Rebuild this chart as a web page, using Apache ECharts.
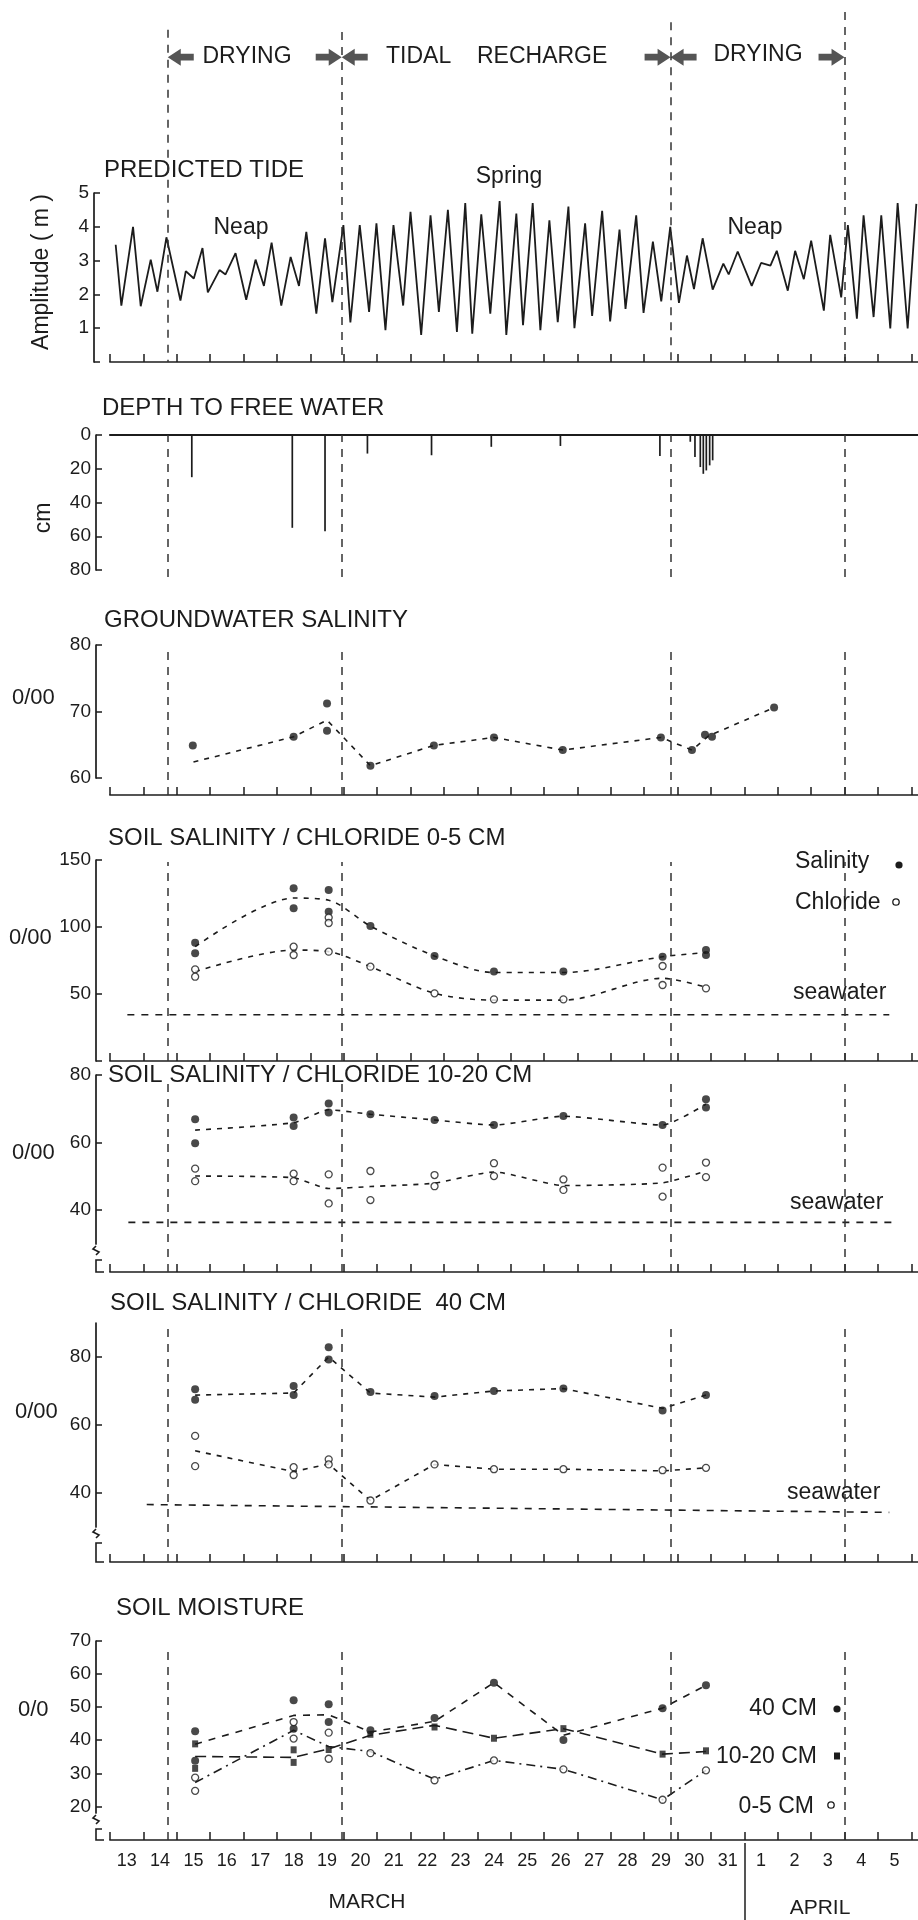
<!DOCTYPE html>
<html><head><meta charset="utf-8">
<style>html,body{margin:0;padding:0;background:#fff}#c{width:918px;height:1920px}</style>
<script src="https://cdn.jsdelivr.net/npm/echarts@6/dist/echarts.min.js"></script>
</head><body><div id="c"></div>
<script>
// ================= DATA =================
// x coordinate = day number (March 13 = 13 ... March 31 = 31, April 1 = 32 ... April 5 = 36)
const dayLabelValues = [13,14,15,16,17,18,19,20,21,22,23,24,25,26,27,28,29,30,31,32,33,34,35,36];
const dayLabels = ['13','14','15','16','17','18','19','20','21','22','23','24','25','26','27','28','29','30','31','1','2','3','4','5'];
const dayTicks = [12.5,13.5,14.5,15.5,16.5,17.5,18.5,19.5,20.5,21.5,22.5,23.5,24.5,25.5,26.5,27.5,28.5,29.5,30.5,31.5,32.5,33.5,34.5,35.5,36.5];
const monthBoundary = [31.5];
const phaseLines = [14.23, 19.44, 29.29, 34.5];
const phaseLineTops = [0.949, 0.943, 0.971, 1.0]; // where each dashed line starts in the header (fraction of header+tide band)

// predicted tide, amplitude (m)
const tide = [[12.67,3.47],[12.84,1.67],[13.19,4.0],[13.42,1.65],[13.72,3.03],[13.92,2.08],[14.19,3.69],[14.61,1.82],[14.77,2.69],[15.01,2.47],[15.27,3.37],[15.43,2.06],[15.78,2.72],[15.96,2.59],[16.26,3.22],[16.58,1.84],[16.86,3.03],[17.11,2.25],[17.34,3.53],[17.63,1.67],[17.91,3.11],[18.16,2.25],[18.38,3.85],[18.68,1.43],[18.94,3.66],[19.16,1.77],[19.49,4.05],[19.70,1.17],[19.98,4.05],[20.26,1.48],[20.48,4.1],[20.75,0.94],[20.99,4.05],[21.28,1.67],[21.5,4.44],[21.82,0.8],[22.1,4.34],[22.35,1.48],[22.62,4.5],[22.89,0.89],[23.14,4.7],[23.35,0.84],[23.62,4.37],[23.89,1.43],[24.17,4.76],[24.37,0.8],[24.67,4.39],[24.87,1.09],[25.16,4.7],[25.39,0.94],[25.66,4.19],[25.91,1.18],[26.23,4.6],[26.41,1.0],[26.73,4.1],[26.94,1.36],[27.24,4.47],[27.48,1.2],[27.76,3.92],[27.94,1.57],[28.26,4.34],[28.48,1.45],[28.76,3.56],[29.01,1.79],[29.28,4.0],[29.54,1.75],[29.78,3.15],[29.99,2.16],[30.25,3.66],[30.55,2.14],[30.87,2.91],[31.03,2.59],[31.30,3.27],[31.72,2.25],[32.0,2.93],[32.28,2.85],[32.47,3.29],[32.8,2.11],[33.02,3.29],[33.28,2.45],[33.5,3.59],[33.88,1.52],[34.07,3.76],[34.4,1.91],[34.6,4.05],[34.87,1.28],[35.07,4.34],[35.37,1.33],[35.6,4.34],[35.87,0.99],[36.09,4.70],[36.39,0.99],[36.65,4.68]];

// depth to free water (cm)
const depthToWater = [[14.95,25],[17.96,55],[18.94,57],[20.21,11],[22.13,12],[23.92,7],[25.99,6.5],[28.97,12.5],[29.88,4],[30.02,13],[30.18,19],[30.27,23],[30.36,21],[30.46,18],[30.55,15]];

// groundwater salinity (0/00)
const gwPoints = [[14.98,64.9],[15.0,59.8],[18.0,66.2],[19.0,71.2],[19.0,67.1],[20.3,61.85],[22.2,64.9],[24.0,66.1],[26.06,64.2],[29.0,66.1],[29.93,64.2],[30.32,66.5],[30.53,66.2],[32.39,70.6]];
const gwLine = [[15.0,62.4],[18.0,66.2],[19.0,68.7],[20.3,61.85],[22.2,64.9],[24.0,66.1],[26.06,64.2],[29.0,66.1],[29.93,64.2],[30.42,66.3],[32.39,70.6]];

// soil sampling days
const sampleDays = [15.05, 18.0, 19.05, 20.3, 22.22, 24.0, 26.08, 29.05, 30.35];

// soil 0-5 cm
const sal05A = [88.3,128.9,127.6,100.7,78.4,66.7,66.7,77.8,82.8];
const sal05B = [80.4,114,111.4,null,null,null,null,null,79.1];
const sal05Line = [85.3,121.6,120,100.7,78.4,66,66,77.8,80.9];
const cl05A = [68.4,85.3,107,70.4,50.5,46,46,70.9,54.2];
const cl05B = [62.9,79.1,103,null,null,null,null,56.7,null];
const cl05C = [null,null,81.6,null,null,null,null,null,null];
const cl05Line = [66.7,82.8,81.6,70.4,50.5,45.4,45.4,61.7,55];
const seawater05 = [[13.02,34.5],[35.84,34.5]];

// soil 10-20 cm
const sal1020A = [66.9,67.4,71.6,68.4,66.7,65.2,67.9,65.2,72.8];
const sal1020B = [59.8,64.9,68.9,null,null,null,null,null,70.4];
const sal1020Line = [63.7,65.9,69.7,68.4,66.7,65.2,67.8,65.2,71.4];
const cl1020A = [52.3,50.8,50.6,51.6,50.4,53.9,49.1,52.6,54.1];
const cl1020B = [48.6,48.6,42,43,47.1,50.1,46,44,49.8];
const cl1020Line = [50.1,49.6,46.4,47,48,51.3,47.3,48.1,51.6];
const seawater1020 = [[13.05,36.4],[35.93,36.4]];

// soil 40 cm
const sal40A = [70.5,71.5,82.9,69.7,68.5,70,70.7,64.3,68.8];
const sal40B = [67.4,68.8,79.3,null,null,null,null,null,null];
const sal40Line = [68.8,69.4,80,69.4,68.2,70,70.7,64.9,68.8];
const cl40A = [56.8,47.6,49.9,37.8,48.4,47,47,46.7,47.4];
const cl40B = [47.9,45.3,48.4,null,null,null,null,null,null];
const cl40Line = [52.4,46.3,48.5,37.8,48.4,47,47,46.5,47.4];
const seawater40 = [[13.6,36.6],[35.84,34.3]];

// soil moisture (0/0)
const m40A = [42.7,52.1,50.9,43,46.7,57.4,40.1,49.7,56.6];
const m40B = [33.8,43.5,45.5,null,null,null,null,null,null];
const m40Line = [38.8,47.5,47.7,42.5,45.7,57.4,41.5,49.7,56.6];
const m1020A = [38.9,37.1,37.2,41.8,44,40.6,43.5,35.8,36.8];
const m1020B = [31.5,33.3,null,null,null,null,null,null,null];
const m1020Line = [35.1,34.8,37.4,41.5,44.5,40.6,43.5,35.8,36.6];
const m05A = [28.7,45.5,42.3,36.1,27.9,33.9,31.2,22,30.9];
const m05B = [24.7,40.5,34.4,null,null,null,null,null,null];
const m05Line = [27.2,43,38.1,36.6,28.2,33.9,31.2,22,30.9];

// ================= BUILD =================
const INK = '#1c1c1c';
const FONT = "'Liberation Sans', Arial, Helvetica, sans-serif";
const X_MIN = 12.5, X_MAX = 36.7;
const pairs = (days, vals) => days.map((d, i) => [d, vals[i]]).filter(p => p[1] != null);

const mainGrids = [
  {top:193, height:169}, {top:435, height:135}, {top:645, height:133}, {top:860, height:201},
  {top:1075, height:169}, {top:1323, height:204}, {top:1641, height:172}
];
const overlayGrids = [[12,362],[435,577],[645,795],[862,1061],[1078,1272],[1325,1562],[1645,1840],[1843,1920]];
const grid = mainGrids.map(g => ({left:110, right:0, top:g.top, height:g.height}))
  .concat(overlayGrids.map(o => ({left:110, right:0, top:o[0], height:o[1]-o[0]})));

const xOffsets = [0, 0, 17, 0, 28, 35, 27];
const xAxis = [];
const yAxis = [];
mainGrids.forEach((g, i) => {
  const isDepth = i === 1, isLast = i === 6;
  xAxis.push({
    type:'value', gridIndex:i, min:X_MIN, max:X_MAX, position: isDepth ? 'top' : 'bottom',
    offset: xOffsets[i],
    axisLine:{show:true, onZero:false, lineStyle:{color:INK, width:isDepth ? 2.2 : 1.7}},
    axisTick:{show:!isDepth, inside:true, length:8, customValues:dayTicks, lineStyle:{color:INK, width:1.5}},
    axisLabel:{show:false}, splitLine:{show:false}
  });
  if (isLast) {
    xAxis.push({
      type:'value', gridIndex:i, min:X_MIN, max:X_MAX, position:'bottom', offset: xOffsets[i],
      axisLine:{show:false}, axisTick:{show:false}, splitLine:{show:false},
      axisLabel:{show:true, customValues:dayLabelValues, margin:12, color:INK, fontSize:18, fontFamily:FONT,
        formatter: v => dayLabels[dayLabelValues.indexOf(Math.round(v))]}
    });
  }
});
overlayGrids.forEach((o, k) => {
  xAxis.push({type:'value', gridIndex:7+k, min:X_MIN, max:X_MAX, show:false});
});

const yConf = [
  {min:0, max:5, ticks:[0,1,2,3,4,5], labels:[1,2,3,4,5], off:16},
  {min:0, max:80, ticks:[0,20,40,60,80], labels:[0,20,40,60,80], inverse:true, off:14},
  {min:60, max:80, ticks:[60,70,80], labels:[60,70,80], off:14},
  {min:0, max:150, ticks:[0,50,100,150], labels:[50,100,150], off:14},
  {min:30, max:80, ticks:[40,60,80], labels:[40,60,80], off:14},
  {min:30, max:90, ticks:[40,60,80], labels:[40,60,80], off:14},
  {min:18, max:70, ticks:[20,30,40,50,60,70], labels:[20,30,40,50,60,70], off:14}
];
yConf.forEach((c, i) => {
  yAxis.push({
    type:'value', gridIndex:i, min:c.min, max:c.max, inverse:!!c.inverse, offset:c.off,
    axisLine:{show:true, onZero:false, lineStyle:{color:INK, width:1.7}},
    axisTick:{show:true, inside:true, length:6, customValues:c.ticks, lineStyle:{color:INK, width:1.5}},
    axisLabel:{show:true, customValues:c.labels, margin:5, color:INK, fontSize:19, fontFamily:FONT},
    splitLine:{show:false}
  });
});
overlayGrids.forEach((o, k) => {
  yAxis.push({type:'value', gridIndex:7+k, min:0, max:1, show:false});
});

const ovX = k => 8 + k;   // overlay x axes start after 7 main + 1 label axis
const ovY = k => 7 + k;

const filled = (name, data, xa, ya) => ({type:'scatter', name, xAxisIndex:xa, yAxisIndex:ya, data, symbol:'circle', symbolSize:8, itemStyle:{color:INK}, z:4});
const open = (name, data, xa, ya) => ({type:'scatter', name, xAxisIndex:xa, yAxisIndex:ya, data, symbol:'circle', symbolSize:7, itemStyle:{color:'#fff', borderColor:INK, borderWidth:1.3}, z:4});
const square = (name, data, xa, ya) => ({type:'scatter', name, xAxisIndex:xa, yAxisIndex:ya, data, symbol:'rect', symbolSize:[6,7], itemStyle:{color:INK}, z:4});
const dline = (name, data, xa, ya, dash, smooth) => ({type:'line', name, xAxisIndex:xa, yAxisIndex:ya, data, symbol:'none', smooth: smooth || false, lineStyle:{color:INK, width:1.6, type:dash}, z:3});

const series = [];
series.push({type:'line', name:'tide', xAxisIndex:0, yAxisIndex:0, data:tide, symbol:'none', lineStyle:{color:INK, width:1.8}});
series.push({type:'bar', name:'depth', xAxisIndex:1, yAxisIndex:1, data:depthToWater, barWidth:1.7, itemStyle:{color:INK}});
series.push(dline('gwLine', gwLine, 2, 2, [5,6]));
series.push(filled('gw', gwPoints, 2, 2));
series.push(dline('sal05Line', pairs(sampleDays, sal05Line), 3, 3, [5,6], 0.3));
series.push(dline('cl05Line', pairs(sampleDays, cl05Line), 3, 3, [5,6], 0.3));
series.push(dline('sea05', seawater05, 3, 3, [7,7]));
series.push(filled('sal05A', pairs(sampleDays, sal05A), 3, 3));
series.push(filled('sal05B', pairs(sampleDays, sal05B), 3, 3));
series.push(open('cl05A', pairs(sampleDays, cl05A), 3, 3));
series.push(open('cl05B', pairs(sampleDays, cl05B), 3, 3));
series.push(open('cl05C', pairs(sampleDays, cl05C), 3, 3));
series.push(dline('sal1020Line', pairs(sampleDays, sal1020Line), 4, 4, [5,6], 0.2));
series.push(dline('cl1020Line', pairs(sampleDays, cl1020Line), 4, 4, [5,6], 0.2));
series.push(dline('sea1020', seawater1020, 4, 4, [7,7]));
series.push(filled('sal1020A', pairs(sampleDays, sal1020A), 4, 4));
series.push(filled('sal1020B', pairs(sampleDays, sal1020B), 4, 4));
series.push(open('cl1020A', pairs(sampleDays, cl1020A), 4, 4));
series.push(open('cl1020B', pairs(sampleDays, cl1020B), 4, 4));
series.push(dline('sal40Line', pairs(sampleDays, sal40Line), 5, 5, [5,6]));
series.push(dline('cl40Line', pairs(sampleDays, cl40Line), 5, 5, [5,6]));
series.push(dline('sea40', seawater40, 5, 5, [7,7]));
series.push(filled('sal40A', pairs(sampleDays, sal40A), 5, 5));
series.push(filled('sal40B', pairs(sampleDays, sal40B), 5, 5));
series.push(open('cl40A', pairs(sampleDays, cl40A), 5, 5));
series.push(open('cl40B', pairs(sampleDays, cl40B), 5, 5));
series.push(dline('m40Line', pairs(sampleDays, m40Line), 6, 6, [7,7]));
series.push(dline('m1020Line', pairs(sampleDays, m1020Line), 6, 6, [11,6]));
series.push(dline('m05Line', pairs(sampleDays, m05Line), 6, 6, [9,5,2,5]));
series.push(filled('m40A', pairs(sampleDays, m40A), 6, 6));
series.push(filled('m40B', pairs(sampleDays, m40B), 6, 6));
series.push(square('m1020A', pairs(sampleDays, m1020A), 6, 6));
series.push(square('m1020B', pairs(sampleDays, m1020B), 6, 6));
series.push(open('m05A', pairs(sampleDays, m05A), 6, 6));
series.push(open('m05B', pairs(sampleDays, m05B), 6, 6));

// phase boundary dashed lines in every panel
const phaseStyle = {color:'#333', width:1.5, type:[8,7]};
for (let k = 0; k < 7; k++) {
  const data = k === 0
    ? phaseLines.map((d, j) => [{coord:[d, phaseLineTops[j]]}, {coord:[d, 0]}])
    : phaseLines.map(d => ({xAxis:d}));
  series.push({type:'line', name:'phase'+k, xAxisIndex:ovX(k), yAxisIndex:ovY(k), data:[], silent:true,
    markLine:{symbol:'none', silent:true, label:{show:false}, animation:false, lineStyle:phaseStyle, data}});
}
series.push({type:'line', name:'month', xAxisIndex:ovX(7), yAxisIndex:ovY(7), data:[], silent:true,
  markLine:{symbol:'none', silent:true, label:{show:false}, animation:false,
    lineStyle:{color:INK, width:1.5, type:'solid'}, data: monthBoundary.map(d => ({xAxis:d}))}});
// header arrows at phase boundaries
const leftArrow = 'path://M0,5 L6,0 L6,3 L12,3 L12,7 L6,7 L6,10 Z';
const rightArrow = 'path://M12,5 L6,0 L6,3 L0,3 L0,7 L6,7 L6,10 Z';
const arrowY = 0.871;
series.push({type:'scatter', name:'arrowsL', xAxisIndex:ovX(0), yAxisIndex:ovY(0), silent:true,
  data: phaseLines.slice(0,3).map(d => [d, arrowY]), symbol:leftArrow, symbolSize:[26,17], symbolOffset:[13,0], itemStyle:{color:'#2a2a2a'}});
series.push({type:'scatter', name:'arrowsR', xAxisIndex:ovX(0), yAxisIndex:ovY(0), silent:true,
  data: phaseLines.slice(1,4).map(d => [d, arrowY]), symbol:rightArrow, symbolSize:[26,17], symbolOffset:[-13,0], itemStyle:{color:'#2a2a2a'}});

// ================= TEXT & AXIS DECORATION =================
const T = (text, x, y, size, align, extra) => Object.assign({type:'text', x, y, silent:true,
  style:{text, font: size + 'px ' + FONT, fill:INK, textAlign:align || 'left', align:align || 'left', textVerticalAlign:'middle', verticalAlign:'middle'}}, extra || {});
const R = (text, x, y, size) => T(text, x, y, size, 'center', {rotation:Math.PI/2});
const stroke = {stroke:INK, lineWidth:1.6, fill:null};
// axis break marks below the broken y axes (x = y-axis line position)
const brk = (yTop, yAxisPos) => [
  {type:'polyline', silent:true, shape:{points:[[96,yTop],[93,yTop+3],[99,yTop+6],[96,yTop+9]]}, style:stroke},
  {type:'polyline', silent:true, shape:{points:[[102,yTop+14],[96,yTop+14],[96,yAxisPos],[104,yAxisPos]]}, style:stroke}
];
const graphic = [
  T('DRYING', 247, 57, 23, 'center'),
  T('TIDAL', 386, 57, 23), T('RECHARGE', 477, 57, 23),
  T('DRYING', 758, 55, 23, 'center'),
  T('PREDICTED TIDE', 104, 170, 24),
  T('Spring', 509, 177, 23, 'center'),
  T('Neap', 241, 228, 23, 'center'), T('Neap', 755, 228, 23, 'center'),
  R('Amplitude ( m )', 42, 272, 23),
  T('DEPTH TO FREE WATER', 102, 408, 24),
  R('cm', 44, 518, 23),
  T('GROUNDWATER SALINITY', 104, 620, 24),
  T('0/00', 12, 698, 22),
  T('SOIL SALINITY / CHLORIDE 0-5 CM', 108, 838, 24),
  T('0/00', 9, 938, 22),
  T('Salinity', 795, 862, 23), T('Chloride', 795, 903, 23),
  T('seawater', 793, 993, 23),
  T('SOIL SALINITY / CHLORIDE 10-20 CM', 108, 1075, 24),
  T('0/00', 12, 1153, 22),
  T('seawater', 790, 1203, 23),
  T('SOIL SALINITY / CHLORIDE  40 CM', 110, 1303, 24),
  T('0/00', 15, 1412, 22),
  T('seawater', 787, 1493, 23),
  T('SOIL MOISTURE', 116, 1608, 24),
  T('0/0', 18, 1710, 22),
  T('40 CM', 817, 1709, 23, 'right'),
  T('10-20 CM', 817, 1757, 23, 'right'),
  T('0-5 CM', 814, 1807, 23, 'right'),
  T('MARCH', 367, 1902, 21, 'center'),
  T('APRIL', 820, 1908, 21, 'center'),
  {type:'circle', silent:true, shape:{cx:899, cy:865, r:3.6}, style:{fill:INK}},
  {type:'circle', silent:true, shape:{cx:896, cy:902, r:3.2}, style:{fill:'#fff', stroke:INK, lineWidth:1.3}},
  {type:'circle', silent:true, shape:{cx:837, cy:1709, r:3.6}, style:{fill:INK}},
  {type:'rect', silent:true, shape:{x:834, y:1752.5, width:6, height:7}, style:{fill:INK}},
  {type:'circle', silent:true, shape:{cx:831, cy:1805, r:3.2}, style:{fill:'#fff', stroke:INK, lineWidth:1.3}}
].concat(brk(1246, 1272), brk(1529, 1562), brk(1815, 1840));

const chart = echarts.init(document.getElementById('c'), null, {renderer:'canvas'});
chart.setOption({backgroundColor:'#fff', animation:false, grid, xAxis, yAxis, series, graphic});
</script></body></html>
